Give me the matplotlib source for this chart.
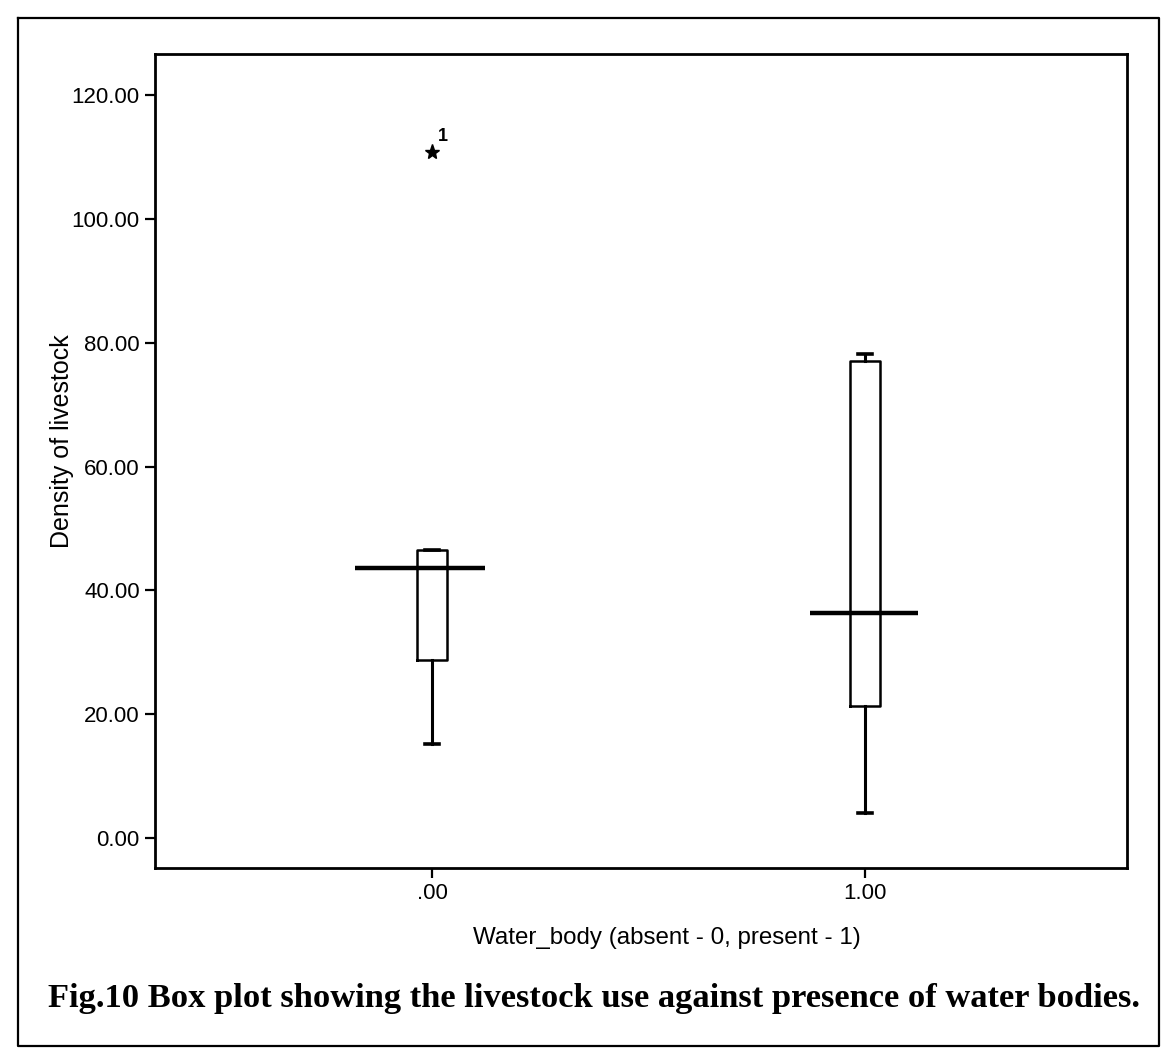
import matplotlib.pyplot as plt
from matplotlib.lines import Line2D

# values
groups = [0, 1]
group_labels = [".00", "1.00"]
whisker_low = [15.2, 4.0]
q1 = [28.8, 21.3]
medians = [43.6, 36.3]
q3 = [46.6, 77.1]
whisker_high = [46.6, 78.2]
outliers = [[110.7], []]
outlier_ids = [["1"], []]

y_ticks = [0, 20, 40, 60, 80, 100, 120]

plt.rcParams["font.family"] = ["Liberation Sans", "DejaVu Sans"]

fig = plt.figure(figsize=(11.71, 10.58), dpi=100)
W, H = 1171, 1058

# outer page frame of the scanned figure
frame_x = [18, 1159, 1159, 18, 18]
frame_y = [18, 18, 1046, 1046, 18]
fig.add_artist(Line2D([x / W for x in frame_x], [1 - y / H for y in frame_y],
                      color="black", linewidth=1.6, transform=fig.transFigure))

ax = fig.add_axes([155 / W, 1 - 868 / H, (1127 - 155) / W, (868 - 54) / H])

stats = []
for i in range(len(groups)):
    stats.append({
        "whislo": whisker_low[i],
        "q1": q1[i],
        "med": medians[i],
        "q3": q3[i],
        "whishi": whisker_high[i],
        "fliers": outliers[i],
    })

ax.bxp(stats, positions=groups, widths=0.068, showfliers=True,
       boxprops=dict(color="black", linewidth=1.8),
       whiskerprops=dict(color="black", linewidth=2.2),
       capprops=dict(color="black", linewidth=2.6),
       medianprops=dict(linewidth=0),
       flierprops=dict(marker="*", markersize=11, markerfacecolor="black",
                       markeredgecolor="black"))

# SPSS draws a wide, heavy median line
left_ext = [0.178, 0.127]
ax.hlines(medians, [g - e for g, e in zip(groups, left_ext)],
          [g + 0.122 for g in groups], color="black", linewidth=3.2)

for g, vals, ids in zip(groups, outliers, outlier_ids):
    for v, label in zip(vals, ids):
        ax.annotate(label, (g, v), xytext=(4.5, 8), textcoords="offset points",
                    fontsize=13, fontweight="bold")

ax.set_xlim(-0.64, 1.605)
ax.set_ylim(-4.8, 126.6)
ax.set_xticks(groups)
ax.set_xticklabels(group_labels)
ax.set_yticks(y_ticks)
ax.set_yticklabels([f"{v:.2f}" for v in y_ticks])
ax.tick_params(axis="both", length=7, width=1.6, labelsize=16, pad=4)
for spine in ax.spines.values():
    spine.set_linewidth(2.0)

ax.set_xlabel("Water_body (absent - 0, present - 1)", fontsize=17.4)
ax.xaxis.set_label_coords(0.527, -0.072)
ax.set_ylabel("Density of livestock", fontsize=18)
ax.yaxis.set_label_coords(-0.083, 0.525)

fig.text(594 / W, 1 - 998 / H,
         "Fig.10 Box plot showing the livestock use against presence of water bodies.",
         ha="center", va="center", fontsize=24.8, fontweight="bold",
         family=["Liberation Serif", "DejaVu Serif"])

fig.savefig("out.png", dpi=100)
